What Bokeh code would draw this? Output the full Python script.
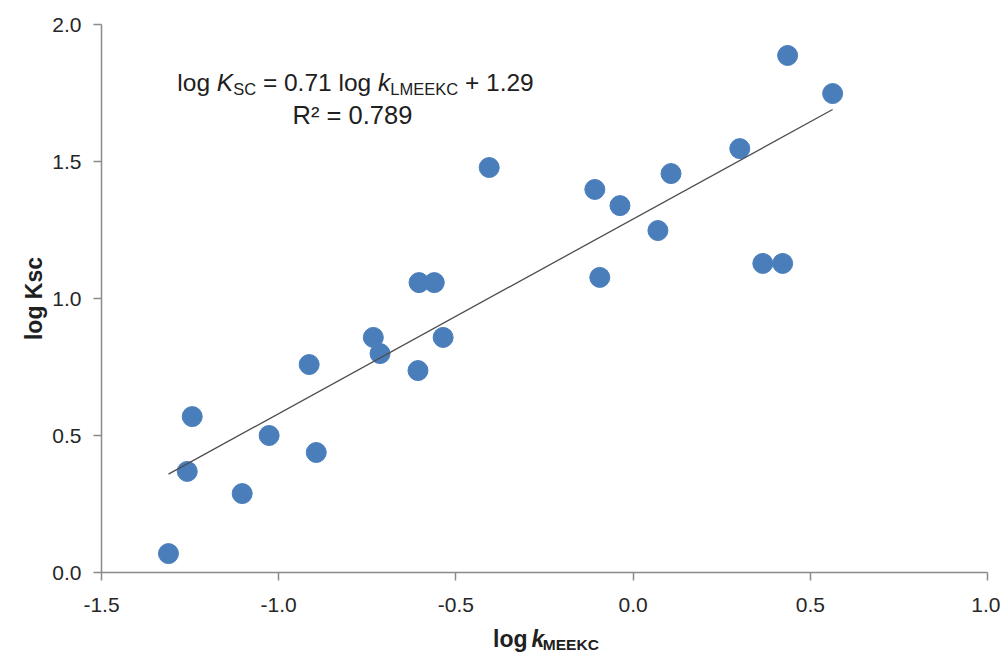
from bokeh.plotting import figure
from bokeh.models import Label, Range1d, FixedTicker
from bokeh.layouts import column
from bokeh.embed import file_html
from bokeh.resources import INLINE

# data
log_k_meekc = [-1.311, -1.258, -1.244, -1.103, -1.027, -0.914, -0.894, -0.733, -0.714,
               -0.607, -0.604, -0.561, -0.536, -0.406, -0.108, -0.094, -0.037, 0.070,
               0.107, 0.301, 0.366, 0.422, 0.436, 0.563]
log_ksc = [0.069, 0.369, 0.569, 0.288, 0.500, 0.759, 0.438, 0.858, 0.799,
           0.737, 1.058, 1.058, 0.858, 1.478, 1.398, 1.077, 1.339, 1.248,
           1.456, 1.547, 1.128, 1.128, 1.887, 1.748]
slope = 0.71
intercept = 1.29
r2 = 0.789
x_ticks = [-1.5, -1.0, -0.5, 0.0, 0.5, 1.0]
y_ticks = [0.0, 0.5, 1.0, 1.5, 2.0]

FONT = "Liberation Sans"
# advance widths (per 1000 em) of Liberation Sans (Arial metrics)
REG = {" ": 278, "l": 222, "o": 556, "g": 556, "K": 667, "S": 667, "C": 722, "=": 584,
       ".": 278, "k": 500, "L": 556, "M": 833, "E": 667, "+": 584, "R": 722, "²": 333}
for d in "0123456789":
    REG[d] = 556
BOLD = {" ": 278, "l": 278, "o": 611, "g": 611, "k": 556, "M": 833, "E": 667, "K": 722,
        "C": 722}


def tw(s, size, bold=False):
    t = BOLD if bold else REG
    return sum(t[c] for c in s) * size / 1000.0


W = 1000
H1, H2 = 626, 36
L, R, T, B = 101, 987, 24, 572  # frame edges in canvas pixels
BASE_FIX = 10  # empirical shift of alphabetic baseline

p = figure(width=W, height=H1, output_backend="svg", toolbar_location=None,
           x_range=Range1d(-1.5, 1.0), y_range=Range1d(0.0, 2.0),
           min_border_left=L, min_border_right=W - R, min_border_top=T,
           min_border_bottom=H1 - B)
p.grid.visible = False
p.outline_line_color = None

for ax in (p.xaxis[0], p.yaxis[0]):
    ax.axis_line_color = "#8a8a8a"
    ax.axis_line_width = 1.5
    ax.major_tick_line_color = "#8a8a8a"
    ax.major_tick_line_width = 1.5
    ax.major_tick_out = 8
    ax.major_tick_in = 0
    ax.minor_tick_line_color = None
    ax.major_label_text_font = FONT
    ax.major_label_text_font_size = "21px"
    ax.major_label_text_color = "#262626"
p.xaxis.major_label_standoff = 17
p.yaxis.major_label_standoff = 12

p.xaxis.ticker = FixedTicker(ticks=x_ticks)
p.yaxis.ticker = FixedTicker(ticks=y_ticks)
p.xaxis.major_label_overrides = {t: f"{t:.1f}" for t in x_ticks}
p.yaxis.major_label_overrides = {t: f"{t:.1f}" for t in y_ticks}

p.yaxis.axis_label = "log Ksc"
p.yaxis.axis_label_text_font = FONT
p.yaxis.axis_label_text_font_style = "bold"
p.yaxis.axis_label_text_font_size = "23px"
p.yaxis.axis_label_text_color = "#202020"
p.yaxis.axis_label_standoff = 2

# scatter
p.scatter(log_k_meekc, log_ksc, size=20, color="#4a7ebb", line_color="#4a7ebb")

# trend line
x0, x1 = min(log_k_meekc), max(log_k_meekc)
p.line([x0, x1], [slope * x0 + intercept, slope * x1 + intercept],
       line_color="#4d4d4d", line_width=1.3)


# pixel -> data helpers for placing annotation text in the main plot
def dx(px):
    return -1.5 + (px - L) / ((R - L) / 2.5)


def dy(py):
    return (B - py) / ((B - T) / 2.0)


def place(fig, segs, cx, base, size, sub, bold, conv):
    """segs: list of (text, kind, gap_before_in_spaces) ; kind in main/ital/sub"""
    base = base - BASE_FIX
    total = 0.0
    widths = []
    for text, kind, gap in segs:
        sz = sub if kind == "sub" else size
        w = tw(text, sz, bold)
        g = tw(" ", size, bold) * gap
        widths.append((g, w, sz))
        total += g + w
    x = cx - total / 2.0
    for (text, kind, gap), (g, w, sz) in zip(segs, widths):
        x += g
        style = "bold" if bold else "normal"
        if kind == "ital":
            style = "bold italic" if bold else "italic"
        yb = base + (0.25 * size if kind == "sub" else 0.0)
        fx, fy = conv(x, yb)
        fig.add_layout(Label(x=fx, y=fy, text=text, text_font=FONT,
                             text_font_size=f"{sz}px", text_font_style=style,
                             text_color="#202020", text_baseline="alphabetic",
                             text_align="left"))
        x += w


# equation annotation
eq = [("log", "main", 0), ("K", "ital", 1), ("SC", "sub", 0),
      (f"= {slope:.2f} log", "main", 1), ("k", "ital", 1), ("LMEEKC", "sub", 0),
      (f"+ {intercept:.2f}", "main", 1)]
place(p, eq, 355, 92, 24.5, 16.5, False, lambda a, b: (dx(a), dy(b)))
place(p, [(f"R² = {r2:.3f}", "main", 0)], 352, 124, 25.5, 16.5, False,
      lambda a, b: (dx(a), dy(b)))

# x-axis title strip below the main figure
X_FIX = -46  # empirical horizontal correction for the strip
p2 = figure(width=W, height=H2, output_backend="svg", toolbar_location=None,
            x_range=Range1d(0, W), y_range=Range1d(0, H2),
            min_border=0, x_axis_type=None, y_axis_type=None)
p2.grid.visible = False
p2.outline_line_color = None
xl = [("log", "main", 0), ("k", "ital", 1.4), ("MEEKC", "sub", 0)]
place(p2, xl, (L + R) / 2.0 + X_FIX, 648 - H1, 23, 15.5, True,
      lambda a, b: (a, H2 - b))

layout = column(p, p2, spacing=0)
open("out.html", "w").write(file_html(layout, INLINE))
